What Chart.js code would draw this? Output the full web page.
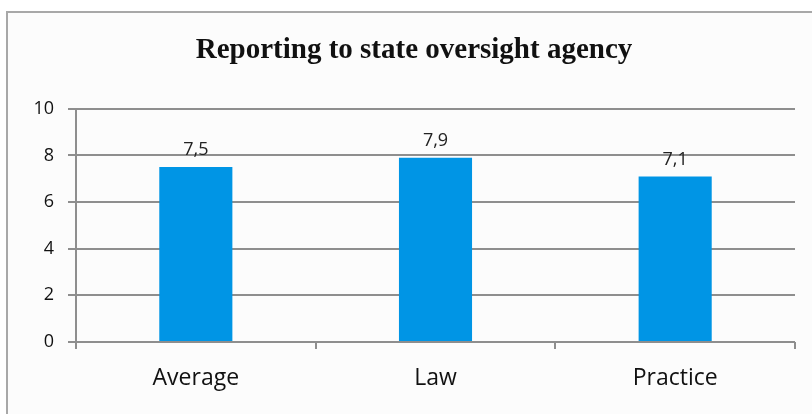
<!DOCTYPE html>
<html>
<head>
<meta charset="utf-8">
<script src="https://cdn.jsdelivr.net/npm/chart.js@4.4.1/dist/chart.umd.min.js"></script>
<style>
  html, body { margin: 0; padding: 0; background: #ffffff; }
  #wrap { width: 812px; height: 414px; }
</style>
</head>
<body>
<div id="wrap"><canvas id="c" width="812" height="414"></canvas></div>
<script>
// Chart content
const chartTitle = 'Reporting to state oversight agency';
const categories = ['Average', 'Law', 'Practice'];
const scores = [7.5, 7.9, 7.1];
const yTicks = [0, 2, 4, 6, 8, 10];

const gridColor = '#8e8e8e';
const barColor = '#0095e5';
const uiFont = '"Open Sans", "DejaVu Sans", sans-serif';

// Framed panel behind the chart
const framePlugin = {
  id: 'frame',
  beforeDraw(chart) {
    const ctx = chart.ctx;
    ctx.save();
    ctx.fillStyle = '#fcfcfc';
    ctx.fillRect(7, 12, 900, 500);
    ctx.strokeStyle = '#a8a8a8';
    ctx.lineWidth = 2;
    ctx.strokeRect(7, 12, 900, 500);
    ctx.restore();
  }
};

// Value labels above each bar, decimal comma
const valueLabelPlugin = {
  id: 'valueLabels',
  afterDatasetsDraw(chart) {
    const ctx = chart.ctx;
    const meta = chart.getDatasetMeta(0);
    ctx.save();
    ctx.font = '18px ' + uiFont;
    ctx.fillStyle = '#222';
    ctx.textAlign = 'center';
    ctx.textBaseline = 'bottom';
    meta.data.forEach((bar, i) => {
      const txt = scores[i].toFixed(1).replace('.', ',');
      ctx.fillText(txt, bar.x, bar.y - 8);
    });
    ctx.restore();
  }
};

new Chart(document.getElementById('c'), {
  type: 'bar',
  data: {
    labels: categories,
    datasets: [{
      data: scores,
      backgroundColor: barColor,
      borderWidth: 0,
      categoryPercentage: 1,
      barPercentage: 0.305
    }]
  },
  options: {
    responsive: false,
    animation: false,
    events: [],
    layout: { padding: { top: 0, right: 17, bottom: 0, left: 33 } },
    plugins: {
      legend: { display: false },
      tooltip: { enabled: false },
      title: {
        display: true,
        text: chartTitle,
        color: '#111',
        font: { family: '"Liberation Serif", "Times New Roman", serif', size: 29, weight: 'bold' },
        padding: { top: 33, bottom: 41 }
      }
    },
    scales: {
      x: {
        offset: true,
        grid: {
          offset: true,
          drawOnChartArea: false,
          drawTicks: true,
          tickLength: 7,
          color: gridColor,
          lineWidth: 2
        },
        border: { display: false },
        ticks: {
          color: '#111',
          font: { family: uiFont, size: 23 },
          padding: 16
        },
        afterFit(scale) { scale.height = 72; }
      },
      y: {
        min: 0,
        max: 10,
        afterBuildTicks(scale) { scale.ticks = yTicks.map(v => ({ value: v })); },
        grid: {
          color: gridColor,
          lineWidth: 2,
          drawTicks: true,
          tickLength: 8
        },
        border: { display: true, color: gridColor, width: 2 },
        ticks: {
          color: '#111',
          font: { family: uiFont, size: 18 },
          padding: 14
        },
        afterFit(scale) { scale.width = 43; }
      }
    }
  },
  plugins: [framePlugin, valueLabelPlugin]
});
</script>
</body>
</html>
